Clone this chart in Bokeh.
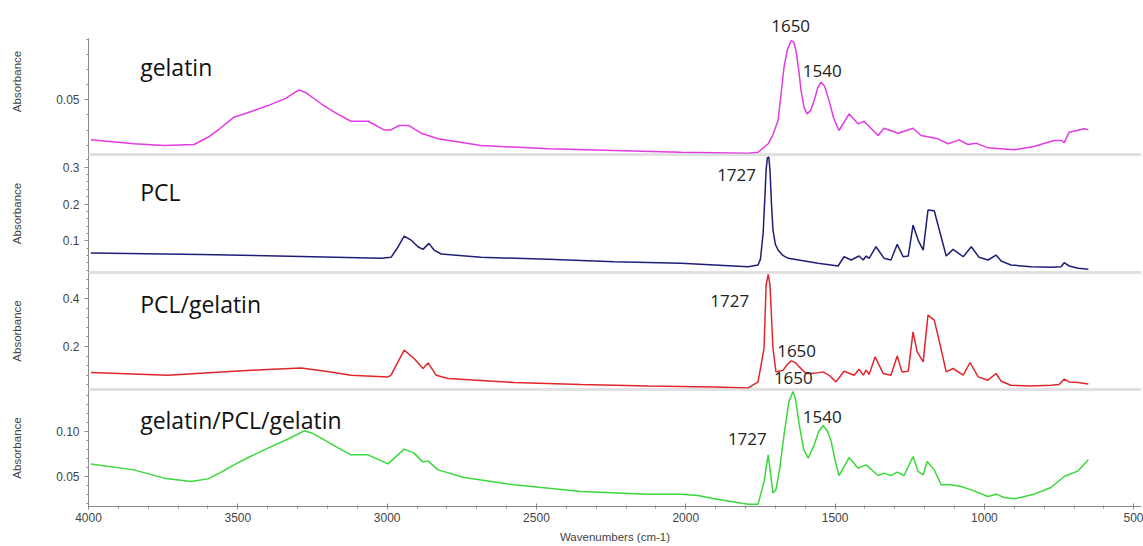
from bokeh.plotting import figure
from bokeh.layouts import column
from bokeh.models import Range1d, FixedTicker, Label, Span, NumeralTickFormatter
from bokeh.embed import file_html
from bokeh.resources import INLINE

# ---------------- data ----------------
wn_gel = [3992, 3848, 3747, 3647, 3600, 3560, 3513, 3460, 3399, 3340, 3295, 3270, 3221, 3170, 3121,
          3064, 3010, 2987, 2960, 2927, 2886, 2830, 2686, 2461, 2240, 2016, 1791, 1758, 1724, 1708,
          1691, 1671, 1660, 1647, 1638, 1631, 1622, 1614, 1604, 1594, 1582, 1570, 1558, 1547, 1535,
          1520, 1505, 1487, 1453, 1423, 1403, 1356, 1336, 1289, 1239, 1212, 1155, 1122, 1085, 1055,
          1028, 988, 900, 834, 767, 743, 733, 716, 666, 652]
abs_gel = [0.0235, 0.0209, 0.0197, 0.0204, 0.0252, 0.0310, 0.0385, 0.0420, 0.0462, 0.0510, 0.0566,
           0.0545, 0.0474, 0.0410, 0.0358, 0.0358, 0.0301, 0.0301, 0.0330, 0.0330, 0.0279, 0.0242,
           0.0197, 0.0176, 0.0164, 0.0153, 0.0146, 0.0153, 0.0209, 0.0270, 0.0363, 0.0716, 0.0830,
           0.0893, 0.0880, 0.0826, 0.0700, 0.0562, 0.0450, 0.0407, 0.0430, 0.0495, 0.0580, 0.0617,
           0.0590, 0.0495, 0.0380, 0.0297, 0.0407, 0.0341, 0.0358, 0.0264, 0.0312, 0.0279, 0.0312,
           0.0264, 0.0242, 0.0209, 0.0235, 0.0204, 0.0213, 0.0182, 0.0169, 0.0191, 0.0231, 0.0231,
           0.0217, 0.0286, 0.0308, 0.0301]

wn_pcl = [3992, 3623, 3288, 3020, 2987, 2963, 2943, 2920, 2897, 2880, 2860, 2843, 2819, 2686, 2461,
          2240, 2016, 1791, 1758, 1750, 1741, 1735, 1731, 1727, 1722, 1718, 1713, 1708, 1700, 1691,
          1675, 1657, 1557, 1490, 1470, 1446, 1420, 1406, 1396, 1386, 1363, 1336, 1313, 1292, 1272,
          1255, 1239, 1222, 1205, 1189, 1168, 1145, 1128, 1105, 1071, 1044, 1018, 988, 961, 944, 911,
          844, 777, 743, 733, 716, 686, 652]
abs_pcl = [0.0666, 0.0625, 0.0571, 0.0522, 0.0549, 0.0837, 0.1128, 0.1019, 0.0837, 0.0766, 0.0929,
           0.0747, 0.0639, 0.0549, 0.0495, 0.0429, 0.0386, 0.0294, 0.0340, 0.0500, 0.1201, 0.2200,
           0.2921, 0.3250, 0.3280, 0.2921, 0.2000, 0.1291, 0.0900, 0.0747, 0.0600, 0.0522, 0.0386,
           0.0313, 0.0565, 0.0476, 0.0584, 0.0476, 0.0584, 0.0522, 0.0837, 0.0522, 0.0476, 0.0902,
           0.0565, 0.0584, 0.1427, 0.1019, 0.0747, 0.1834, 0.1815, 0.1109, 0.0584, 0.0766, 0.0565,
           0.0837, 0.0549, 0.0476, 0.0611, 0.0448, 0.0340, 0.0294, 0.0277, 0.0294, 0.0402, 0.0313,
           0.0250, 0.0223]

wn_pg = [3992, 3734, 3513, 3400, 3288, 3200, 3121, 2997, 2987, 2943, 2910, 2880, 2863, 2836, 2796,
         2575, 2351, 2126, 1905, 1791, 1758, 1738, 1731, 1724, 1718, 1708, 1698, 1674, 1660, 1647,
         1633, 1620, 1597, 1570, 1540, 1520, 1497, 1470, 1436, 1420, 1406, 1396, 1386, 1366, 1339,
         1313, 1292, 1276, 1255, 1239, 1225, 1205, 1189, 1168, 1148, 1128, 1105, 1071, 1048, 1021,
         988, 961, 944, 911, 844, 777, 750, 733, 716, 686, 652]
abs_pg = [0.0917, 0.0804, 0.0971, 0.1040, 0.1108, 0.0960, 0.0804, 0.0733, 0.0804, 0.1846, 0.1500,
          0.1083, 0.1317, 0.0804, 0.0667, 0.0500, 0.0417, 0.0358, 0.0317, 0.0275, 0.0525, 0.1917,
          0.4554, 0.5000, 0.4554, 0.1917, 0.0942, 0.1013, 0.1250, 0.1400, 0.1330, 0.1150, 0.0875,
          0.0880, 0.0942, 0.0800, 0.0525, 0.0971, 0.0804, 0.1054, 0.0804, 0.1013, 0.0833, 0.1567,
          0.0875, 0.0804, 0.1608, 0.0942, 0.0971, 0.2608, 0.1775, 0.1358, 0.3304, 0.3096, 0.2054,
          0.0942, 0.1083, 0.0804, 0.1333, 0.0733, 0.0596, 0.0875, 0.0554, 0.0387, 0.0358, 0.0387,
          0.0417, 0.0638, 0.0525, 0.0500, 0.0442]

wn_gpg = [3992, 3848, 3747, 3657, 3600, 3560, 3513, 3460, 3399, 3330, 3278, 3250, 3221, 3170, 3121,
          3064, 2997, 2943, 2910, 2880, 2863, 2830, 2742, 2575, 2351, 2126, 2016, 1959, 1905, 1791,
          1758, 1738, 1724, 1708, 1698, 1685, 1671, 1655, 1641, 1632, 1620, 1605, 1590, 1570, 1555,
          1540, 1525, 1513, 1500, 1487, 1453, 1423, 1396, 1356, 1336, 1313, 1292, 1269, 1239, 1222,
          1205, 1192, 1168, 1145, 1112, 1078, 1044, 988, 961, 934, 900, 834, 777, 733, 686, 652]
abs_gpg = [0.0638, 0.0574, 0.0482, 0.0444, 0.0474, 0.0540, 0.0630, 0.0720, 0.0816, 0.0920, 0.1008,
           0.0980, 0.0927, 0.0830, 0.0741, 0.0741, 0.0641, 0.0804, 0.0760, 0.0660, 0.0674, 0.0574,
           0.0489, 0.0408, 0.0333, 0.0304, 0.0304, 0.0289, 0.0252, 0.0193, 0.0193, 0.0444, 0.0741,
           0.0316, 0.0352, 0.0600, 0.0963, 0.1330, 0.1444, 0.1350, 0.1074, 0.0800, 0.0704, 0.0852,
           0.1000, 0.1067, 0.1000, 0.0889, 0.0680, 0.0511, 0.0711, 0.0593, 0.0630, 0.0511, 0.0538,
           0.0511, 0.0549, 0.0511, 0.0722, 0.0556, 0.0519, 0.0667, 0.0574, 0.0408, 0.0408, 0.0389,
           0.0352, 0.0278, 0.0304, 0.0267, 0.0252, 0.0304, 0.0378, 0.0500, 0.0563, 0.0686]

names = ["gelatin", "PCL", "PCL/gelatin", "gelatin/PCL/gelatin"]
colors = ["#e33be3", "#1e1e78", "#e0262a", "#3ad83a"]
x_major = [4000, 3500, 3000, 2500, 2000, 1500, 1000, 500]
y_major = [[0.05], [0.1, 0.2, 0.3], [0.2, 0.4], [0.05, 0.10]]
y_formats = ["0.00", "0.0", "0.0", "0.00"]
# peak annotations: (panel, text, wavenumber, absorbance, baseline)
peaks = [(0, "1650", 1714, 0.0992, "alphabetic"), (0, "1540", 1608, 0.0694, "alphabetic"),
         (1, "1727", 1895, 0.2785, "alphabetic"),
         (2, "1727", 1918, 0.390, "alphabetic"), (2, "1650", 1694, 0.1804, "alphabetic"),
         (2, "1650", 1705, 0.0420, "bottom"),
         (3, "1540", 1608, 0.1167, "alphabetic"), (3, "1727", 1859, 0.0919, "alphabetic")]
name_pos = [(3827, 0.0716), (3827, 0.233), (3827, 0.379), (3827, 0.113)]

series = [(wn_gel, abs_gel), (wn_pcl, abs_pcl), (wn_pg, abs_pg), (wn_gpg, abs_gpg)]

# ---------------- layout ----------------
# visible axis extent of each panel, and the (possibly taller) plotting range
axis_bounds = [(0.0138, 0.0906), (0.0136, 0.3347), (0.0208, 0.5083), (0.0167, 0.1467)]
y_ranges = [(0.0138, 0.1105), (0.0136, 0.3347), (0.0208, 0.5083), (0.0167, 0.1467)]
heights = [154, 118, 117, 156]
tops = [8, 0, 0, 0]
bottoms = [0, 0, 0, 39]
label_standoff = [30, 37, 37, 30]
minor_step = [0.01, 0.02, 0.04, 0.01]

AX = "#8a8a8a"
TXT = "#444444"
SEP = "#c4c4c4"
FONT = "Liberation Sans"

x_range = Range1d(4000, 474)
figs = []
for i in range(4):
    p = figure(width=1143, height=heights[i], x_range=x_range,
               y_range=Range1d(*y_ranges[i]),
               x_axis_location="below" if i == 3 else None,
               output_backend="svg", toolbar_location=None,
               min_border_left=88, min_border_right=2,
               min_border_top=tops[i], min_border_bottom=bottoms[i])
    p.outline_line_color = None
    p.xgrid.visible = False
    p.ygrid.visible = False
    p.background_fill_color = "white"
    p.border_fill_color = "white"

    lo, hi = axis_bounds[i]
    st = minor_step[i]
    minors = []
    k = 1
    while k * st < hi:
        v = round(k * st, 4)
        if v > lo and all(abs(v - m) > 1e-6 for m in y_major[i]):
            minors.append(v)
        k += 1
    yax = p.yaxis[0]
    yax.bounds = (lo, hi)
    yax.ticker = FixedTicker(ticks=y_major[i], minor_ticks=minors)
    yax.formatter = NumeralTickFormatter(format=y_formats[i])
    yax.axis_label = "Absorbance"
    yax.axis_label_text_font = FONT
    yax.axis_label_text_font_size = "11.5px"
    yax.axis_label_text_font_style = "normal"
    yax.axis_label_text_color = TXT
    yax.axis_label_standoff = label_standoff[i]
    yax.major_label_text_font = FONT
    yax.major_label_text_font_size = "12px"
    yax.major_label_text_color = TXT
    yax.major_label_standoff = 5
    yax.axis_line_color = AX
    yax.major_tick_line_color = AX
    yax.minor_tick_line_color = AX
    yax.major_tick_out = 4
    yax.major_tick_in = 0
    yax.minor_tick_out = 2
    yax.minor_tick_in = 0

    if i == 3:
        xax = p.xaxis[0]
        xax.ticker = FixedTicker(ticks=x_major, minor_ticks=list(range(4000, 450, -100)))
        xax.axis_label = "Wavenumbers (cm-1)"
        xax.axis_label_text_font = FONT
        xax.axis_label_text_font_size = "11.5px"
        xax.axis_label_text_font_style = "normal"
        xax.axis_label_text_color = TXT
        xax.axis_label_standoff = 6
        xax.major_label_text_font = FONT
        xax.major_label_text_font_size = "12px"
        xax.major_label_text_color = TXT
        xax.major_label_standoff = 3
        xax.axis_line_color = AX
        xax.major_tick_line_color = AX
        xax.minor_tick_line_color = AX
        xax.major_tick_out = 3
        xax.major_tick_in = 3
        xax.minor_tick_out = 2
        xax.minor_tick_in = 1

    if i < 3:
        p.add_layout(Span(location=lo, dimension="width", line_color=SEP, line_width=2))
    if i > 0:
        p.add_layout(Span(location=hi, dimension="width", line_color=SEP, line_width=2))

    wn, ab = series[i]
    p.line(wn, ab, line_color=colors[i], line_width=1.5)

    nx, ny = name_pos[i]
    p.add_layout(Label(x=nx, y=ny, text=names[i], text_font="Open Sans",
                       text_font_size="23px", text_color="#111111",
                       text_align="left", text_baseline="alphabetic"))
    for (pi, t, px, py, bl) in peaks:
        if pi == i:
            p.add_layout(Label(x=px, y=py, text=t, text_font="Open Sans",
                               text_font_size="17px", text_color="#222222",
                               text_align="left", text_baseline=bl))
    figs.append(p)

layout = column(*figs, spacing=0)
open("out.html", "w").write(file_html(layout, INLINE))
